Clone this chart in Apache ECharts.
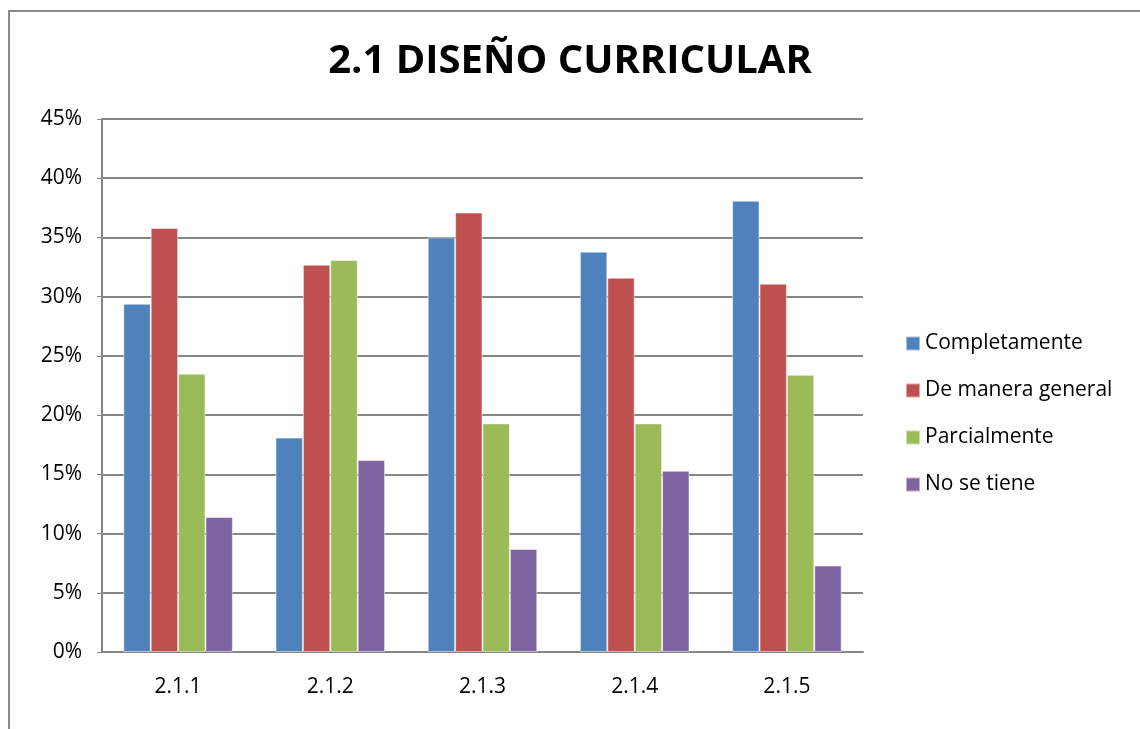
<!DOCTYPE html>
<html>
<head>
<meta charset="utf-8">
<script src="https://cdn.jsdelivr.net/npm/echarts@6/dist/echarts.min.js"></script>
<style>
  html, body { margin: 0; padding: 0; background: #fff; }
  #frame {
    position: absolute; left: 8px; top: 10px; width: 1140px; height: 730px;
    border-left: 2px solid #8a8a8a; border-top: 2px solid #8a8a8a;
  }
  #main { position: absolute; left: 0; top: 0; width: 1140px; height: 729px; }
</style>
</head>
<body>
<div id="frame"></div>
<div id="main"></div>
<script>
// datos de la grafica
const categorias = ['2.1.1', '2.1.2', '2.1.3', '2.1.4', '2.1.5'];
const completamente = [29.4, 18.1, 35.0, 33.8, 38.1];
const deManeraGeneral = [35.8, 32.7, 37.1, 31.6, 31.1];
const parcialmente = [23.5, 33.1, 19.3, 19.3, 23.4];
const noSeTiene = [11.4, 16.2, 8.7, 15.3, 7.3];
const nombres = ['Completamente', 'De manera general', 'Parcialmente', 'No se tiene'];
const colores = ['#4F81BD', '#C0504D', '#9BBB59', '#8064A2'];

const fuente = '"Open Sans", sans-serif';
const myChart = echarts.init(document.getElementById('main'));

const series = [completamente, deManeraGeneral, parcialmente, noSeTiene].map((datos, i) => ({
  name: nombres[i],
  type: 'bar',
  data: datos,
  barGap: '0%',
  barCategoryGap: '28%',
  itemStyle: { color: colores[i], borderColor: 'rgba(255,255,255,0.5)', borderWidth: 1 }
}));

const option = {
  animation: false,
  title: {
    text: '2.1 DISEÑO CURRICULAR',
    left: 'center',
    top: 37,
    textStyle: { fontFamily: fuente, fontWeight: 'bold', fontSize: 40, color: '#000' }
  },
  legend: {
    orient: 'vertical',
    left: 900,
    top: 328,
    itemWidth: 14,
    itemHeight: 14,
    itemGap: 26,
    icon: 'rect',
    data: nombres,
    textStyle: { fontFamily: fuente, fontSize: 21, color: '#000' }
  },
  grid: { left: 102, right: 277, top: 119, bottom: 77 },
  xAxis: {
    type: 'category',
    data: categorias,
    axisLine: { lineStyle: { color: '#868686', width: 2 } },
    axisTick: { show: false },
    axisLabel: { fontFamily: fuente, fontSize: 21, color: '#000', margin: 25 }
  },
  yAxis: {
    type: 'value',
    min: 0,
    max: 45,
    interval: 5,
    axisLine: { show: true, lineStyle: { color: '#868686', width: 2 } },
    axisTick: { show: true, length: 5, lineStyle: { color: '#868686' } },
    splitLine: { lineStyle: { color: '#868686', width: 2 } },
    axisLabel: { fontFamily: fuente, fontSize: 21, color: '#000', margin: 20, formatter: '{value}%' }
  },
  series: series
};
myChart.setOption(option);
window.onresize = function () {
  myChart.resize();
};
</script>
</body>
</html>
